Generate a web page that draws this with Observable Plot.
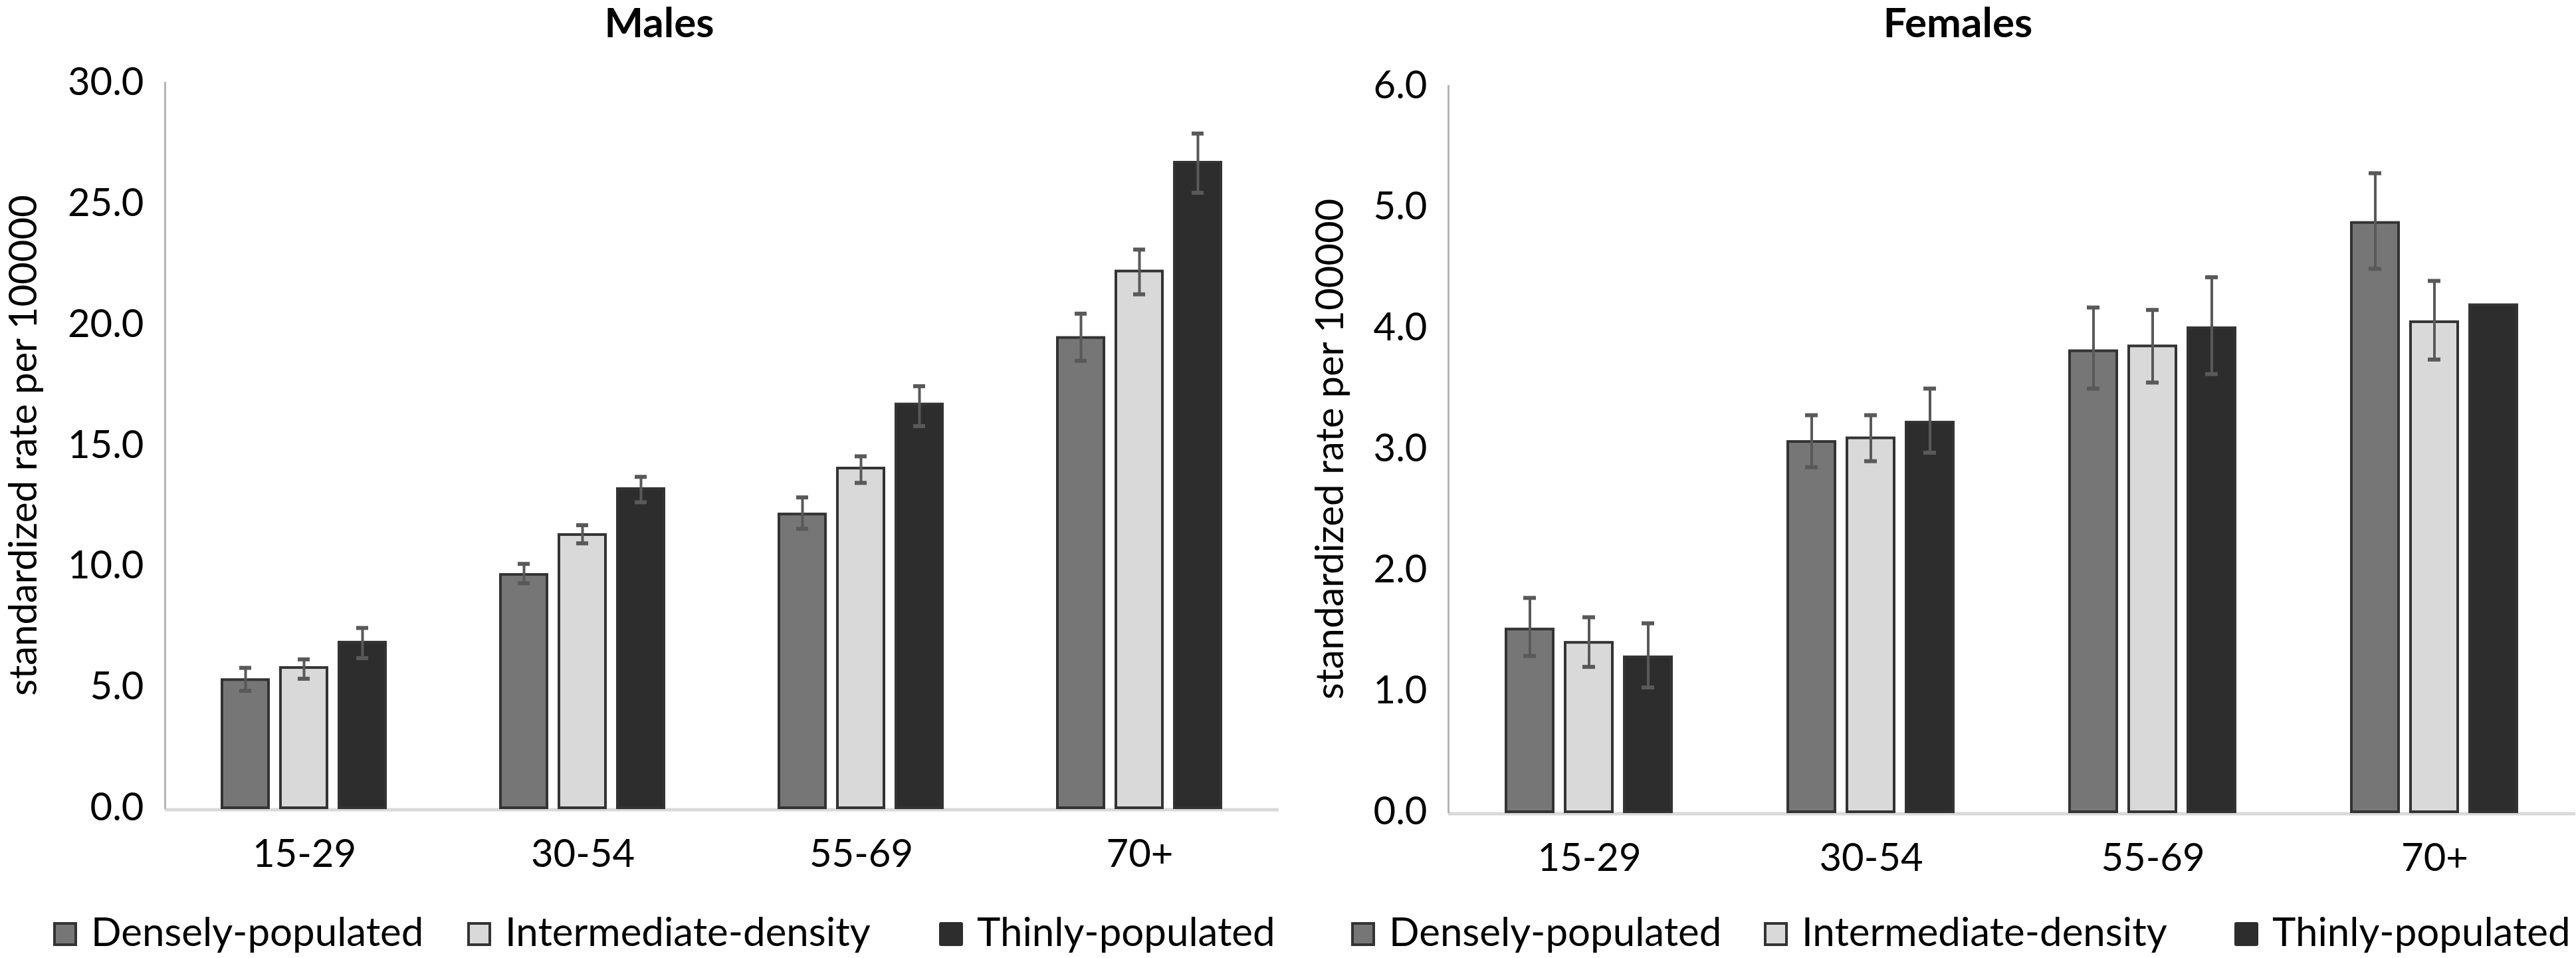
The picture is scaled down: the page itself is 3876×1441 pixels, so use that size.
<!DOCTYPE html>
<html><head><meta charset="utf-8">
<script src="https://cdn.jsdelivr.net/npm/d3@7"></script>
<script src="https://cdn.jsdelivr.net/npm/@observablehq/plot@0.6"></script>
<style>
body{margin:0;background:#fff;}
#root{position:relative;width:3876px;height:1441px;background:#fff;font-family:Lato,sans-serif;color:#000;overflow:hidden}
.panel{position:absolute;top:0}
.title{position:absolute;top:1px;font-weight:bold;font-size:62px;line-height:62px;transform:translateX(-50%);white-space:nowrap}
.leg{position:absolute;top:1370px;font-size:60px;line-height:60px;white-space:nowrap}
.sw{position:absolute;top:1387px;width:36px;height:36px;box-sizing:border-box;border:4px solid #333}
</style></head><body><div id="root"></div>
<script>
// ---- data ----
const ageGroups = ["15-29", "30-54", "55-69", "70+"];
const densities = ["Densely-populated", "Intermediate-density", "Thinly-populated"];
const densityColors = ["#767676", "#d9d9d9", "#2d2d2d"];

const malesDense   = [5.3, 9.65, 12.15, 19.45];
const malesDenseLo = [4.85, 9.3, 11.55, 18.5];
const malesDenseHi = [5.8, 10.1, 12.85, 20.45];
const malesInter   = [5.8, 11.3, 14.05, 22.2];
const malesInterLo = [5.35, 10.95, 13.45, 21.25];
const malesInterHi = [6.15, 11.7, 14.55, 23.1];
const malesThin    = [6.85, 13.2, 16.7, 26.7];
const malesThinLo  = [6.2, 12.65, 15.8, 25.45];
const malesThinHi  = [7.45, 13.7, 17.45, 27.9];

const femalesDense   = [1.51, 3.06, 3.81, 4.87];
const femalesDenseLo = [1.29, 2.85, 3.50, 4.49];
const femalesDenseHi = [1.77, 3.28, 4.17, 5.28];
const femalesInter   = [1.40, 3.09, 3.85, 4.05];
const femalesInterLo = [1.20, 2.90, 3.55, 3.74];
const femalesInterHi = [1.61, 3.28, 4.15, 4.39];
const femalesThin    = [1.28, 3.22, 4.00, 4.19];
const femalesThinLo  = [1.03, 2.97, 3.62, null];
const femalesThinHi  = [1.56, 3.50, 4.42, null];

const maleTicks = [0, 5, 10, 15, 20, 25, 30];
const femaleTicks = [0, 1, 2, 3, 4, 5, 6];
const yLabel = "standardized rate per 100000";

function table(series) {
  const rows = [];
  ageGroups.forEach((age, i) => {
    series.forEach(([v, lo, hi], j) => {
      rows.push({age, density: densities[j], value: v[i], lo: lo[i], hi: hi[i]});
    });
  });
  return rows;
}
const malesData = table([[malesDense, malesDenseLo, malesDenseHi],[malesInter, malesInterLo, malesInterHi],[malesThin, malesThinLo, malesThinHi]]);
const femalesData = table([[femalesDense, femalesDenseLo, femalesDenseHi],[femalesInter, femalesInterLo, femalesInterHi],[femalesThin, femalesThinLo, femalesThinHi]]);

function panel({data, domain, ticks, marginLeft, marginRight, marginTop, marginBottom, labelOffset}) {
  const hasErr = d => d.lo != null && d.hi != null;
  return Plot.plot({
    width: 1938, height: 1330,
    marginLeft, marginRight, marginTop, marginBottom,
    style: {fontFamily: "Lato", fontSize: "58px", color: "#000", background: "transparent", overflow: "visible"},
    fx: {domain: ageGroups, padding: 0, axis: "bottom", tickSize: 0, tickPadding: 47, label: null},
    x: {domain: densities, axis: null, paddingInner: 0.2, paddingOuter: 0.96},
    y: {domain, ticks, tickFormat: d3.format(".1f"), tickSize: 0, tickPadding: 32,
        label: yLabel, labelAnchor: "center", labelOffset, labelArrow: false},
    color: {domain: densities, range: densityColors},
    marks: [
      Plot.ruleY([0], {stroke: "#d9d9d9", strokeWidth: 5, dy: 2.5}),
      Plot.frame({anchor: "left", stroke: "#b4b4b4", strokeWidth: 3, facetAnchor: "left"}),
      Plot.barY(data, {fx: "age", x: "density", y: "value", fill: "density", stroke: "#333", strokeWidth: 4}),
      Plot.ruleX(data, {filter: hasErr, fx: "age", x: "density", y1: "lo", y2: "hi", stroke: "#595959", strokeWidth: 4}),
      Plot.tickY(data, {filter: hasErr, fx: "age", x: "density", y: "lo", insetLeft: 26, insetRight: 26, stroke: "#595959", strokeWidth: 6}),
      Plot.tickY(data, {filter: hasErr, fx: "age", x: "density", y: "hi", insetLeft: 26, insetRight: 26, stroke: "#595959", strokeWidth: 6})
    ]
  });
}

const root = document.getElementById("root");
function place(el, left) { el.classList.add("panel"); el.style.left = left + "px"; root.appendChild(el); }

place(panel({data: malesData, domain: [0, 30], ticks: maleTicks, marginLeft: 247, marginRight: 13, marginTop: 124, marginBottom: 115, labelOffset: 235}), 0);
place(panel({data: femalesData, domain: [0, 6], ticks: femaleTicks, marginLeft: 239, marginRight: 0, marginTop: 129, marginBottom: 109, labelOffset: 200}), 1938);

function title(text, cx) {
  const d = document.createElement("div");
  d.className = "title"; d.textContent = text; d.style.left = cx + "px";
  root.appendChild(d);
}
title("Males", 992);
title("Females", 2946);

function legend(starts) {
  densities.forEach((name, i) => {
    const sw = document.createElement("div");
    sw.className = "sw";
    sw.style.left = starts[i] + "px";
    sw.style.background = densityColors[i];
    if (i === 2) { sw.style.borderColor = densityColors[i]; sw.style.borderRadius = "3px"; }
    root.appendChild(sw);
    const t = document.createElement("div");
    t.className = "leg"; t.textContent = name; t.style.left = (starts[i] + 57) + "px";
    root.appendChild(t);
  });
}
legend([80, 703, 1413]);
legend([2033, 2654, 3362]);
</script></body></html>
